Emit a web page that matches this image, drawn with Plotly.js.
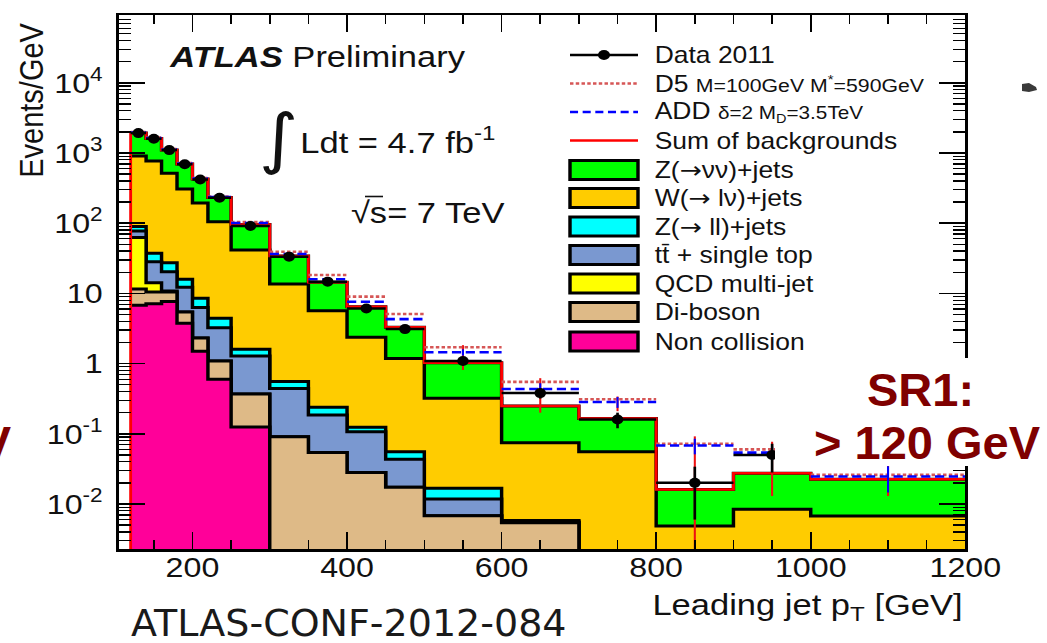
<!DOCTYPE html>
<html>
<head>
<meta charset="utf-8">
<script src="https://cdn.plot.ly/plotly-3.0.1.min.js"></script>
<style>
  html, body { margin: 0; padding: 0; background: #fff; overflow: hidden; }
  #wrap { position: relative; width: 1047px; height: 643px; }
  #chart { position: absolute; left: 0; top: 0; transform-origin: 0 0; }
  #slide { position: absolute; left: 0; top: 0; width: 1047px; height: 643px; pointer-events: none; }
</style>
</head>
<body>
<div id="wrap"><div id="chart"></div><div id="slide"></div></div>
<script>
// Leading jet pT bin edges [GeV]
const binEdges = [120, 140, 160, 180, 200, 220, 250, 300, 350, 400, 450, 500, 600, 700, 800, 900, 1000, 1200];

// Background expectations, events / GeV
const zNuNuJets      = [1022, 841, 590, 390, 233, 127, 54.3, 20.5, 8.73, 4.10, 2.10, 0.71, 0.174, 0.110, 0.0112, 0.019, 0.0158];
const wLNuJets       = [816, 732, 487, 291, 185, 100.6, 39.9, 13.05, 5.43, 2.25, 1.13, 0.303, 0.069, 0.0556, 0.00486, 0.0084, 0.00675];
const zLLJets        = [12, 9.0, 7.0, 3.7, 2.2, 1.17, 0.32, 0.113, 0.054, 0.017, 0.0123, 0.005, 0.0002, 0, 0, 0, 0];
const ttbarSingleTop = [15, 14, 9.6, 6.8, 4.0, 2.16, 0.91, 0.35, 0.131, 0.079, 0.026, 0.005, 0.0002, 0, 0, 0, 0];
const qcdMultijet    = [51, 3.7, 0.3, 0, 0, 0, 0, 0, 0, 0, 0, 0, 0, 0, 0, 0, 0];
const diBoson        = [4.8, 3.4, 2.8, 1.68, 0.81, 0.49, 0.245, 0.091, 0.054, 0.028, 0.0173, 0.0068, 0.0054, 0, 0, 0, 0];
const nonCollision   = [6.8, 7.1, 7.7, 3.75, 1.5, 0.60, 0.125, 0, 0, 0, 0, 0, 0, 0, 0, 0, 0];

// Data 2011 (events / GeV) and statistical errors; last bin is empty
const data2011       = [1920, 1600, 1100, 690, 420, 230, 91, 33.4, 14.7, 6.1, 3.1, 1.09, 0.38, 0.16, 0.02, 0.05, null];
const data2011Err    = [9.8, 8.9, 7.4, 5.9, 4.6, 2.8, 1.35, 0.82, 0.54, 0.35, 0.25, 0.104, 0.062, 0.04, 0.014, 0.022, null];

// Signal + background expectations, with MC uncertainties
const d5Expected     = [1990, 1660, 1140, 720, 440, 240, 104, 39.3, 18.3, 9.0, 5.1, 1.71, 0.55, 0.31, 0.072, 0.060, 0.026];
const d5ErrUp        = [0, 0, 0, 0, 0, 0, 0, 0, 0, 0, 0, 0.12, 0.07, 0.03, 0.02, 0.017, 0.009];
const d5ErrDown      = [0, 0, 0, 0, 0, 0, 0, 0, 0, 0, 0, 0.9, 0.35, 0.1, 0.071, 0.047, 0.013];
const addExpected    = [1960, 1636, 1122, 708, 433, 236, 100.7, 36.4, 15.9, 7.6, 4.3, 1.45, 0.435, 0.284, 0.068, 0.054, 0.0246];
const addErr         = [0, 0, 0, 0, 0, 0, 0, 0, 0, 0, 0, 0.15, 0.09, 0.05, 0.017, 0.012, 0.01];

// Axis ticks
const decadeVals = [0.01, 0.1, 1, 10, 100, 1000, 10000];
const decadeText = ['10<sup>-2</sup>', '10<sup>-1</sup>', '1', '10', '10<sup>2</sup>', '10<sup>3</sup>', '10<sup>4</sup>'];

// ---------------------------------------------------------------------------
// The ROOT figure sits on the slide stretched horizontally; draw it narrower
// and widen it with a CSS transform.
const FIG_W = 1047, FIG_H = 643;
const CHART_W = 910;
const STRETCH = FIG_W / CHART_W;
const M = { l: Math.round(118 / STRETCH), r: Math.round((FIG_W - 965) / STRETCH), t: 15, b: 94 };
const xRange = [104.3, 1200];
const yRange = [-2.641, 4.966];

// screen pixel -> paper fraction helpers
const plotL = M.l * STRETCH, plotR = (CHART_W - M.r) * STRETCH;
const plotT = M.t, plotB = FIG_H - M.b;
const px = x => (x - plotL) / (plotR - plotL);
const py = y => (plotB - y) / (plotB - plotT);

const FONT = 'Liberation Sans, Arial, Helvetica, sans-serif';
const ARROW = '<span style="font-family:DejaVu Sans">→</span>';
const nBins = binEdges.length - 1;
const centers = binEdges.slice(0, -1).map((e, i) => (e + binEdges[i + 1]) / 2);
const halfW = binEdges.slice(0, -1).map((e, i) => (binEdges[i + 1] - e) / 2);
const floorVal = Math.pow(10, yRange[0] - 1);

// stack, bottom to top
const components = [
  { name: 'Non collision', vals: nonCollision, color: '#ff0099' },
  { name: 'Di-boson', vals: diBoson, color: '#deba87' },
  { name: 'QCD multi-jet', vals: qcdMultijet, color: '#ffff00' },
  { name: 'ttbar + single top', vals: ttbarSingleTop, color: '#7a98d0' },
  { name: 'Z(ll)+jets', vals: zLLJets, color: '#00ffff' },
  { name: 'W(lv)+jets', vals: wLNuJets, color: '#ffcc00' },
  { name: 'Z(vv)+jets', vals: zNuNuJets, color: '#00ff00' }
];
let running = new Array(nBins).fill(0);
const stacked = components.map(c => {
  running = running.map((v, i) => v + c.vals[i]);
  return Object.assign({}, c, { top: running.slice() });
});
const totalBkg = running.slice();

const stepY = arr => {
  const y = arr.map(v => (v > 0 ? v : floorVal));
  y.push(y[y.length - 1]);
  return y;
};

const traces = [];
stacked.slice().reverse().forEach(c => {
  traces.push({
    type: 'scatter', mode: 'lines', name: c.name,
    x: binEdges, y: stepY(c.top),
    line: { shape: 'hv', color: '#000', width: 3 },
    fill: 'tozeroy', fillcolor: c.color, hoverinfo: 'skip'
  });
});

// sum of backgrounds outline
traces.push({
  type: 'scatter', mode: 'lines', name: 'Sum of backgrounds',
  x: [binEdges[0]].concat(binEdges), y: [floorVal].concat(stepY(totalBkg)),
  line: { shape: 'hv', color: '#ff0000', width: 2.5 }, hoverinfo: 'skip'
});

// signal expectations as per-bin horizontal segments
function segments(vals) {
  const x = [], y = [];
  vals.forEach((v, i) => { x.push(binEdges[i], binEdges[i + 1], null); y.push(v, v, null); });
  return { x, y };
}
const d5Seg = segments(d5Expected), addSeg = segments(addExpected);
const D5_COLOR = 'rgb(214,86,86)';
traces.push({
  type: 'scatter', mode: 'markers', x: centers, y: d5Expected,
  marker: { size: 1, opacity: 0 },
  error_y: { type: 'data', symmetric: false, array: d5ErrUp, arrayminus: d5ErrDown, color: '#ee1111', thickness: 1.8, width: 0 },
  hoverinfo: 'skip'
});
traces.push({
  type: 'scatter', mode: 'lines', name: 'D5', x: d5Seg.x, y: d5Seg.y, connectgaps: false,
  line: { color: D5_COLOR, width: 2.6, dash: '3px,2px' }, hoverinfo: 'skip'
});
traces.push({
  type: 'scatter', mode: 'markers', x: centers, y: addExpected,
  marker: { size: 1, opacity: 0 },
  error_y: { type: 'data', array: addErr, color: '#0000ff', thickness: 1.8, width: 0 }, hoverinfo: 'skip'
});
traces.push({
  type: 'scatter', mode: 'lines', name: 'ADD', x: addSeg.x, y: addSeg.y, connectgaps: false,
  line: { color: '#0000ff', width: 2.6, dash: '8px,4px' }, hoverinfo: 'skip'
});

// data points
traces.push({
  type: 'scatter', mode: 'markers', name: 'Data 2011',
  x: centers, y: data2011,
  marker: { size: 10, color: '#000', symbol: 'circle' },
  error_y: { type: 'data', array: data2011Err, color: '#000', thickness: 2.3, width: 0 },
  error_x: { type: 'data', array: halfW, color: '#000', thickness: 2.5, width: 0 },
  hoverinfo: 'skip'
});

// y minor ticks 2..9 in each decade
const minorVals = [];
for (let k = -3; k <= 4; k++) for (let m = 2; m <= 9; m++) {
  const v = m * Math.pow(10, k);
  if (Math.log10(v) > yRange[0] && Math.log10(v) < yRange[1]) minorVals.push(v);
}

// hand-built legend
const legendRows = [
  { t: 'Data 2011', y: 55, kind: 'data' },
  { t: 'D5 <span style="font-size:18.5px">M=100GeV M<sup>*</sup>=590GeV</span>', y: 83.5, kind: 'd5' },
  { t: 'ADD <span style="font-size:18px">δ=2 M<sub>D</sub>=3.5TeV</span>', y: 112, kind: 'add' },
  { t: 'Sum of backgrounds', y: 140.5, kind: 'sum' },
  { t: 'Z(' + ARROW + 'νν)+jets', y: 170, kind: 'box', color: '#00ff00' },
  { t: 'W(' + ARROW + ' lν)+jets', y: 198, kind: 'box', color: '#ffcc00' },
  { t: 'Z(' + ARROW + ' ll)+jets', y: 226.5, kind: 'box', color: '#00ffff' },
  { t: 'tt\u0304 + single top', y: 255, kind: 'box', color: '#7a98d0' },
  { t: 'QCD multi-jet', y: 283.5, kind: 'box', color: '#ffff00' },
  { t: 'Di-boson', y: 312, kind: 'box', color: '#deba87' },
  { t: 'Non collision', y: 341.5, kind: 'box', color: '#ff0099' }
];
const shapes = [], annotations = [];
const symL = 570, symR = 638;
legendRows.forEach(r => {
  annotations.push({
    xref: 'paper', yref: 'paper', x: px(652), y: py(r.y), xanchor: 'left', yanchor: 'middle',
    text: r.t, showarrow: false, font: { family: FONT, size: 23, color: '#111' }
  });
  const line = (color, dash) => shapes.push({
    type: 'line', xref: 'paper', yref: 'paper', x0: px(symL), x1: px(symR), y0: py(r.y), y1: py(r.y),
    line: { color, width: 2.5, dash }
  });
  if (r.kind === 'data') {
    line('#000', 'solid');
    shapes.push({ type: 'circle', xref: 'paper', yref: 'paper', x0: px(598), x1: px(610), y0: py(r.y + 5), y1: py(r.y - 5),
      fillcolor: '#000', line: { color: '#000', width: 0 } });
  } else if (r.kind === 'd5') line(D5_COLOR, '3px,2px');
  else if (r.kind === 'add') line('#0000ff', '7px,4px');
  else if (r.kind === 'sum') line('#ff0000', 'solid');
  else shapes.push({ type: 'rect', xref: 'paper', yref: 'paper', x0: px(symL), x1: px(symR), y0: py(r.y + 9.5), y1: py(r.y - 9.5),
    fillcolor: r.color, line: { color: '#000', width: 3 } });
});

// bar over the s of sqrt(s)
shapes.push({ type: 'line', xref: 'paper', yref: 'paper', x0: px(365), x1: px(383), y0: py(196.5), y1: py(196.5),
  line: { color: '#111', width: 1.6 } });

// plot labels
annotations.push(
  { xref: 'paper', yref: 'paper', x: px(167), y: py(57), xanchor: 'left', yanchor: 'middle', showarrow: false,
    text: '<b><i>ATLAS</i></b> Preliminary', font: { family: FONT, size: 30, color: '#111' } },
  { xref: 'paper', yref: 'paper', x: px(278), y: py(138), xanchor: 'center', yanchor: 'middle', showarrow: false,
    text: '∫', font: { family: 'DejaVu Sans, sans-serif', size: 66, color: '#111' } },
  { xref: 'paper', yref: 'paper', x: px(298), y: py(140), xanchor: 'left', yanchor: 'middle', showarrow: false,
    text: 'Ldt = 4.7 fb<sup>-1</sup>', font: { family: FONT, size: 30, color: '#111' } },
  { xref: 'paper', yref: 'paper', x: px(349), y: py(212), xanchor: 'left', yanchor: 'middle', showarrow: false,
    text: '√s= 7 TeV', font: { family: FONT, size: 30, color: '#111' } },
  { xref: 'paper', yref: 'paper', x: px(32), y: py(100), xanchor: 'center', yanchor: 'middle', showarrow: false,
    textangle: -90, text: 'Events/GeV', font: { family: FONT, size: 29, color: '#111' } },
  { xref: 'paper', yref: 'paper', x: 1, y: py(606), xanchor: 'right', yanchor: 'middle', showarrow: false,
    text: 'Leading jet p<sub>T</sub> [GeV]', font: { family: FONT, size: 30, color: '#111' } }
);

const layout = {
  width: CHART_W, height: FIG_H,
  margin: { l: M.l, r: M.r, t: M.t, b: M.b, pad: 0 },
  paper_bgcolor: '#fff', plot_bgcolor: '#fff',
  showlegend: false,
  xaxis: {
    range: xRange, tick0: 0, dtick: 200,
    ticks: 'inside', ticklen: 17, tickwidth: 1.4, tickcolor: '#000',
    showline: true, linewidth: 2.5, linecolor: '#000', mirror: 'allticks',
    showgrid: false, zeroline: false, ticklabelstandoff: -8,
    tickfont: { family: FONT, size: 28, color: '#111' },
    minor: { tick0: 0, dtick: 50, ticks: 'inside', ticklen: 9, tickwidth: 1.4, tickcolor: '#000', showgrid: false }
  },
  yaxis: {
    type: 'log', range: yRange,
    tickmode: 'array', tickvals: decadeVals, ticktext: decadeText,
    ticks: 'inside', ticklen: 23, tickwidth: 1.5, tickcolor: '#000',
    showline: true, linewidth: 2.2, linecolor: '#000', mirror: 'allticks',
    showgrid: false, zeroline: false, ticklabelstandoff: 6,
    tickfont: { family: FONT, size: 28, color: '#111' },
    minor: { tickmode: 'array', tickvals: minorVals, ticks: 'inside', ticklen: 11, tickwidth: 1.3, tickcolor: '#000', showgrid: false }
  },
  shapes, annotations
};

const chartDiv = document.getElementById('chart');
chartDiv.style.width = CHART_W + 'px';
chartDiv.style.height = FIG_H + 'px';
chartDiv.style.transform = 'scaleX(' + STRETCH + ')';
Plotly.newPlot(chartDiv, traces, layout, { staticPlot: true, displayModeBar: false });

// slide-level overlay (pixel coordinates)
const SLIDE_RED = '#7f0000';
Plotly.newPlot('slide', [], {
  width: FIG_W, height: FIG_H, margin: { l: 0, r: 0, t: 0, b: 0 },
  paper_bgcolor: 'rgba(0,0,0,0)', plot_bgcolor: 'rgba(0,0,0,0)',
  xaxis: { range: [0, FIG_W], visible: false },
  yaxis: { range: [FIG_H, 0], visible: false },
  shapes: [
    { type: 'rect', x0: 775, x1: FIG_W, y0: 358, y1: 466, fillcolor: '#fff', line: { width: 0 } },
    { type: 'path', path: 'M1022,84 L1029,83 L1036,87 L1037,90 L1029,92 L1022,91 Z', fillcolor: '#3a3a3a', line: { width: 0 } }
  ],
  annotations: [
    { x: 920, y: 389, xanchor: 'center', yanchor: 'middle', showarrow: false, text: '<b>SR1:</b>',
      font: { family: FONT, size: 47, color: SLIDE_RED } },
    { x: 927, y: 442, xanchor: 'center', yanchor: 'middle', showarrow: false, text: '<b>&gt; 120 GeV</b>',
      font: { family: FONT, size: 47, color: SLIDE_RED } },
    { x: 14, y: 442, xanchor: 'right', yanchor: 'middle', showarrow: false, text: '<b>&gt; 120 GeV</b>',
      font: { family: FONT, size: 47, color: SLIDE_RED } },
    { x: 129, y: 623, xanchor: 'left', yanchor: 'middle', showarrow: false, text: 'ATLAS-CONF-2012-084',
      font: { family: 'DejaVu Sans, sans-serif', size: 38, color: '#1a1a1a' } }
  ]
}, { staticPlot: true, displayModeBar: false });
</script>
</body>
</html>
